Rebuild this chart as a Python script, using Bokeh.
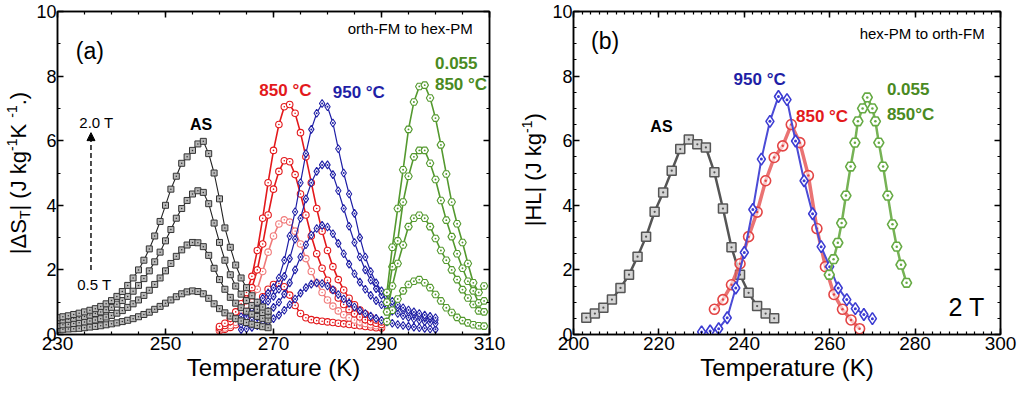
from math import pi
from bokeh.plotting import figure
from bokeh.models import Range1d, FixedTicker, LinearAxis, Label, Arrow, NormalHead
from bokeh.layouts import row
from bokeh.embed import file_html
from bokeh.resources import INLINE

FONT = "Liberation Sans"

# ---------------- Panel (a): |dS_T| vs T, four fields (0.5, 1.0, 1.5, 2.0 T) -------------
T_as_a = list(range(230, 270))
AS_20 = [0.52,0.55,0.58,0.62,0.66,0.70,0.75,0.80,0.87,0.95, 1.05,1.18,1.33,1.52,1.75,2.00,2.30,2.65,3.05,3.50,
         4.00,4.50,4.90,5.30,5.50,5.70,5.90,5.98,5.60,5.00, 4.20,3.30,2.70,2.15,1.75,1.45,1.20,1.00,0.85,0.72]
AS_15 = [0.43,0.45,0.47,0.50,0.53,0.56,0.60,0.65,0.70,0.77, 0.84,0.94,1.05,1.18,1.34,1.52,1.73,1.97,2.25,2.55,
         2.90,3.25,3.60,3.90,4.15,4.35,4.45,4.40,4.05,3.45, 2.85,2.30,1.85,1.50,1.25,1.05,0.90,0.78,0.68,0.60]
AS_10 = [0.28,0.30,0.32,0.34,0.36,0.39,0.42,0.45,0.49,0.54, 0.59,0.66,0.74,0.84,0.95,1.07,1.21,1.37,1.55,1.75,
         1.97,2.20,2.42,2.62,2.77,2.85,2.84,2.72,2.45,2.05, 1.70,1.40,1.15,0.97,0.83,0.72,0.63,0.56,0.50,0.45]
AS_05 = [0.15,0.16,0.17,0.18,0.19,0.21,0.23,0.25,0.27,0.30, 0.33,0.36,0.40,0.44,0.49,0.55,0.62,0.69,0.78,0.87,
         0.97,1.07,1.17,1.26,1.32,1.35,1.33,1.26,1.12,0.95, 0.80,0.67,0.57,0.49,0.42,0.37,0.32,0.28,0.24,0.21]

T_850_a = list(range(260, 291))
R_20 = [0.25,0.35,0.50,0.70,0.95,1.30,1.80,2.60,3.60,4.70, 5.70,6.50,7.05,7.12,6.85,6.25,5.50,4.70,3.90,3.20,
        2.60,2.10,1.70,1.38,1.12,0.92,0.76,0.63,0.53,0.45,0.39]
R_15 = [0.20,0.28,0.40,0.55,0.75,1.05,1.45,2.00,2.80,3.70, 4.50,5.05,5.38,5.35,4.95,4.35,3.70,3.05,2.50,2.05,
        1.68,1.38,1.13,0.93,0.77,0.64,0.54,0.46,0.40,0.35,0.31]
R_10 = [0.15,0.20,0.28,0.38,0.52,0.72,1.00,1.40,1.95,2.55, 3.05,3.42,3.55,3.48,3.20,2.80,2.35,1.95,1.60,1.30,
        1.07,0.88,0.73,0.61,0.52,0.45,0.39,0.34,0.30,0.27,0.25]
R_05 = [0.12,0.16,0.22,0.30,0.40,0.53,0.70,0.92,1.17,1.40, 1.55,1.58,1.48,1.22,0.90,0.65,0.52,0.46,0.43,0.41,
        0.39,0.37,0.35,0.33,0.31,0.29,0.27,0.25,0.23,0.21,0.20]

T_950_a = list(range(264, 301))
B_20 = [0.55,0.68,0.82,0.97,1.12,1.28,1.45,1.75,2.30,3.05, 3.80,4.70,5.60,6.35,6.85,7.15,7.05,6.55,5.75,5.00,
        4.35,3.75,3.00,2.40,1.95,1.60,1.35,1.17,1.03,0.92, 0.83,0.76,0.70,0.65,0.60,0.56,0.52]
B_15 = [0.45,0.55,0.66,0.78,0.90,1.03,1.18,1.40,1.80,2.35, 2.95,3.60,4.20,4.70,5.05,5.25,5.25,4.95,4.45,3.90,
        3.35,2.85,2.40,2.00,1.68,1.42,1.22,1.06,0.94,0.84, 0.76,0.69,0.63,0.58,0.53,0.49,0.45]
B_10 = [0.32,0.38,0.45,0.53,0.62,0.72,0.84,1.00,1.25,1.60, 2.00,2.40,2.78,3.08,3.28,3.38,3.33,3.12,2.82,2.50,
        2.18,1.88,1.62,1.40,1.21,1.05,0.92,0.81,0.72,0.65, 0.58,0.53,0.48,0.44,0.40,0.37,0.34]
B_05 = [0.15,0.18,0.22,0.27,0.33,0.40,0.49,0.60,0.75,0.92, 1.10,1.28,1.45,1.56,1.60,1.58,1.50,1.38,1.24,1.10,
        0.97,0.85,0.74,0.65,0.57,0.50,0.44,0.39,0.35,0.31, 0.28,0.25,0.23,0.21,0.19,0.17,0.16]

T_055_a = list(range(291, 310))
G_20 = [1.30,2.70,3.90,5.10,6.35,7.20,7.68,7.72,7.32,6.70,5.87,4.97,4.10,3.43,2.85,2.20,1.60,1.30,1.50]
G_15 = [1.00,2.10,2.90,4.10,4.90,5.50,5.70,5.70,5.30,4.80,4.15,3.54,3.03,2.50,2.05,1.65,1.35,0.98,1.04]
G_10 = [0.70,1.50,2.20,2.77,3.34,3.60,3.69,3.60,3.34,2.97,2.60,2.30,2.00,1.70,1.39,1.13,0.93,0.73,0.70]
G_05 = [0.40,0.75,1.10,1.35,1.55,1.65,1.70,1.60,1.45,1.24,1.04,0.83,0.68,0.53,0.43,0.36,0.30,0.27,0.26]

# ---------------- Panel (b): |HL| vs T at 2 T ----------------
T_as_b = [203,205,207,209,211,213,215,217,219,221,223,225,227,229,231,233,235,237,239,241,243,245,247]
HL_as = [0.52,0.65,0.83,1.08,1.44,1.85,2.41,3.03,3.80,4.40,5.07,5.74,6.04,5.89,5.79,5.02,3.90,2.70,1.85,1.29,0.88,0.65,0.50]
T_950_b = [230,232,234,236,238,240,242,244,246,248,250,252,254,256,258,260,262,264,266,268,270]
HL_950 = [0.08,0.11,0.18,0.52,1.44,2.54,3.87,5.43,6.60,7.37,7.27,5.99,4.76,3.74,2.72,2.10,1.44,1.08,0.80,0.62,0.49]
T_850_b = [233,235,237,239,241,243,245,247,249,251,253,255,257,259,261,263,265,267]
HL_850 = [0.78,1.08,1.54,2.19,3.03,3.79,4.76,5.48,5.84,6.50,5.94,4.92,3.28,2.10,1.24,0.78,0.45,0.18]
T_055_b = [259.9,260.9,261.9,262.8,263.8,264.9,265.9,266.6,267.7,268.8,270.0,270.7,271.5,272.5,273.6,274.7,275.7,276.7,278.0]
HL_055 = [1.85,2.33,2.84,3.45,4.30,5.20,5.94,6.60,7.00,7.34,7.00,6.60,5.94,5.20,4.30,3.41,2.72,2.16,1.60]

# ---------------- layout constants ----------------
H = 387
BT, BB = 11, 53          # frame top / bottom borders
KY = (H - BT - BB) / 10.0

W = {'|': 260, 'Δ': 668, 'S': 667, 'T': 611, ' ': 278, '(': 333, ')': 333, 'J': 500, 'k': 500,
     'g': 556, 'K': 667, '.': 278, '-': 333, '1': 556, 'H': 722, 'L': 556}


def tw(s, size):
    return sum(W.get(c, 556) for c in s) * size / 1000.0


def style_axis(ax, labels=True, size="19px", standoff=2):
    ax.axis_line_color = "black"
    ax.axis_line_width = 1.5
    ax.major_tick_in = 6
    ax.major_tick_out = 0
    ax.minor_tick_in = 3
    ax.minor_tick_out = 0
    ax.major_tick_line_color = "black"
    ax.minor_tick_line_color = "black"
    ax.major_tick_line_width = 1.5
    ax.minor_tick_line_width = 1.2
    ax.major_label_text_font = FONT
    ax.major_label_standoff = standoff
    if labels:
        ax.major_label_text_font_size = size
        ax.major_label_text_color = "black"
    else:
        ax.major_label_text_font_size = "1px"
        ax.major_label_text_color = None
        ax.major_label_standoff = 0


def make_fig(width, xr, border_l, border_r, xticks, xminor, yticks, yminor):
    p = figure(width=width, height=H, x_range=Range1d(*xr), y_range=Range1d(0, 10),
               output_backend="svg", toolbar_location=None,
               min_border_left=border_l, min_border_right=border_r,
               min_border_top=BT, min_border_bottom=BB)
    p.grid.visible = False
    p.outline_line_color = "black"
    p.outline_line_width = 1.5
    bottom = p.xaxis[0]
    left = p.yaxis[0]
    bottom.ticker = FixedTicker(ticks=xticks, minor_ticks=xminor)
    left.ticker = FixedTicker(ticks=yticks, minor_ticks=yminor)
    style_axis(bottom, size="19px", standoff=2)
    style_axis(left, size="18px", standoff=1)
    bottom.axis_label = "Temperature (K)"
    bottom.axis_label_text_font = FONT
    bottom.axis_label_text_font_size = "24px"
    bottom.axis_label_text_font_style = "normal"
    bottom.axis_label_text_color = "black"
    bottom.axis_label_standoff = 1
    top = LinearAxis(ticker=FixedTicker(ticks=xticks, minor_ticks=xminor))
    right = LinearAxis(ticker=FixedTicker(ticks=yticks, minor_ticks=yminor))
    style_axis(top, labels=False)
    style_axis(right, labels=False)
    p.add_layout(top, "above")
    p.add_layout(right, "right")
    return p


def label_fig(width, pieces, x_anchor, yc):
    f = figure(width=width, height=H, x_range=Range1d(0, width), y_range=Range1d(0, 10),
               output_backend="svg", toolbar_location=None, x_axis_type=None, y_axis_type=None,
               min_border_left=0, min_border_right=0, min_border_top=BT, min_border_bottom=BB)
    f.outline_line_color = None
    total = sum(tw(t, s) for t, s, _ in pieces)
    y = yc - total / 2.0 / KY
    for t, s, shift in pieces:
        f.add_layout(Label(x=x_anchor + shift, y=y, text=t, angle=pi / 2,
                           text_align="left", text_baseline="middle", text_font=FONT,
                           text_font_size=f"{s}px", text_color="black"))
        y += tw(t, s) / KY
    return f


def add_text(p, items):
    for (txt, x, y, align, size, style, color) in items:
        p.add_layout(Label(x=x, y=y, text=txt, text_align=align, text_baseline="middle",
                           text_font=FONT, text_font_size=f"{size}px", text_font_style=style,
                           text_color=color))


RED, LRED, BLUE, GREEN, GTXT = "#e3191c", "#f07a7a", "#1f1fa6", "#54992f", "#4a8a22"

# ---------------- Panel (a) ----------------
ya = label_fig(33, [("|ΔS", 22, 0), ("T", 14, 6), ("| (J kg", 22, 0), ("-1", 14, -7),
                    (" K", 22, 0), ("-1", 14, -7), (".)", 22, 0)], 18, 5.0)

pa = make_fig(483, (230, 310), 21, 27, [230, 250, 270, 290, 310], list(range(230, 311, 5)),
              [0, 2, 4, 6, 8, 10], list(range(0, 11)))

for vals, col in [(R_05, RED), (R_10, LRED), (R_15, RED), (R_20, RED)]:
    pa.line(T_850_a, vals, line_color=col, line_width=1.6)
    pa.scatter(T_850_a, vals, marker="circle_dot", size=6.5, line_color=col, fill_color="white", line_width=1.1)
for vals in [B_05, B_10, B_15, B_20]:
    pa.line(T_950_a, vals, line_color=BLUE, line_width=1.2)
    pa.scatter(T_950_a, vals, marker="diamond_dot", size=8, line_color=BLUE, fill_color="white", line_width=1.1)
for vals in [G_05, G_10, G_15, G_20]:
    pa.line(T_055_a, vals, line_color=GREEN, line_width=1.6)
    pa.scatter(T_055_a, vals, marker="hex_dot", size=7.5, line_color=GREEN, fill_color="white", line_width=1.1)
for vals in [AS_05, AS_10, AS_15, AS_20]:
    pa.line(T_as_a, vals, line_color="#222222", line_width=1.1)
    pa.scatter(T_as_a, vals, marker="square_dot", size=6, line_color="#333333", fill_color="#b8b8b8", line_width=1.0)

pa.add_layout(Arrow(end=NormalHead(size=8, fill_color="black", line_color="black"),
                    x_start=236.2, y_start=2.0, x_end=236.2, y_end=6.25,
                    line_color="black", line_width=1.4, line_dash="5 3"))

add_text(pa, [
    ("(a)", 233.4, 8.77, "left", 23, "normal", "black"),
    ("orth-FM to hex-PM", 306.9, 9.48, "right", 15, "normal", "black"),
    ("AS", 256.6, 6.5, "center", 16, "bold", "black"),
    ("2.0 T", 237.2, 6.56, "center", 15, "normal", "black"),
    ("0.5 T", 236.8, 1.56, "center", 15, "normal", "black"),
    ("850 °C", 272.2, 7.55, "center", 17, "bold", RED),
    ("950 °C", 285.8, 7.48, "center", 17, "bold", BLUE),
    ("0.055", 299.9, 8.4, "left", 17, "bold", GTXT),
    ("850 °C", 299.9, 7.73, "left", 17, "bold", GTXT),
])

# ---------------- Panel (b) ----------------
yb = label_fig(33, [("|HL| (J kg", 22, 0), ("-1", 14, -7), (")", 22, 0)], 17, 5.1)

pb = make_fig(468, (200, 300), 21, 17, [200, 220, 240, 260, 280, 300], list(range(200, 301, 2)),
              [0, 2, 4, 6, 8, 10], [v / 2 for v in range(0, 21)])

pb.line(T_as_b, HL_as, line_color="#555555", line_width=2.5)
pb.scatter(T_as_b, HL_as, marker="square_dot", size=9, line_color="#555555", fill_color="#d4d4d4", line_width=1.5)
pb.line(T_850_b, HL_850, line_color="#e65a5a", line_width=3.5, line_alpha=0.85)
pb.scatter(T_850_b, HL_850, marker="circle_dot", size=10, line_color="#e34545", fill_color="white", line_width=1.6, fill_alpha=0.6)
pb.line(T_950_b, HL_950, line_color="#4b4bd6", line_width=2.0)
pb.scatter(T_950_b, HL_950, marker="diamond_dot", size=12, line_color="#3c3cd2", fill_color="white", line_width=1.6)
pb.line(T_055_b, HL_055, line_color="#76b255", line_width=2.5)
pb.scatter(T_055_b, HL_055, marker="hex_dot", size=10, line_color="#66aa44", fill_color="white", line_width=1.6)

add_text(pb, [
    ("(b)", 204.1, 9.08, "left", 23, "normal", "black"),
    ("hex-PM to orth-FM", 296.3, 9.33, "right", 15, "normal", "black"),
    ("AS", 220.6, 6.44, "center", 16, "bold", "black"),
    ("950 °C", 243.6, 7.88, "center", 17, "bold", BLUE),
    ("850 °C", 252.1, 6.75, "left", 17, "bold", RED),
    ("0.055", 273.4, 7.6, "left", 17, "bold", GTXT),
    ("850°C", 273.4, 6.8, "left", 17, "bold", GTXT),
    ("2 T", 296.3, 0.86, "right", 25, "normal", "black"),
])

layout = row(ya, pa, yb, pb)
open("out.html", "w").write(file_html(layout, INLINE))
